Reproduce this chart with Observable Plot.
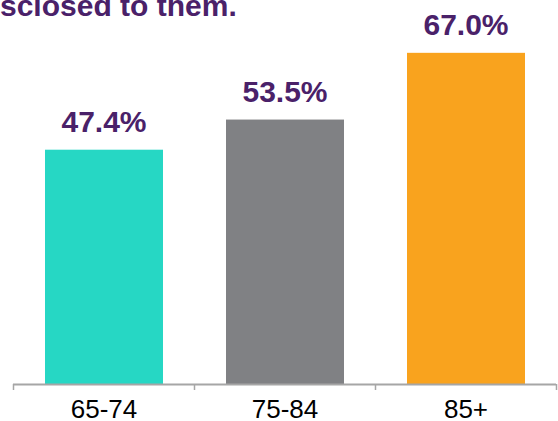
<!DOCTYPE html>
<html>
<head>
<meta charset="utf-8">
<script src="https://cdn.jsdelivr.net/npm/d3@7"></script>
<script src="https://cdn.jsdelivr.net/npm/@observablehq/plot@0.6"></script>
<style>
  html, body { margin: 0; padding: 0; background: #fff; }
  body { position: relative; width: 558px; height: 421px; overflow: hidden; font-family: "Liberation Sans", Arial, sans-serif; }
  #title { position: absolute; left: 0; top: -9px; font-size: 30px; line-height: 30px; font-weight: bold; color: #4a2169; white-space: nowrap; z-index: 2; }
  #chart svg { display: block; overflow: visible; }
</style>
</head>
<body>
<div id="title">sclosed to them.</div>
<div id="chart"></div>
<script>
const categories = ["65-74", "75-84", "85+"];
const values = [47.4, 53.5, 67.0];
const colors = ["#26d7c4", "#808184", "#f9a31e"];
const purple = "#4a2169";

const data = categories.map((c, i) => ({category: c, value: values[i], idx: i}));
const boundaries = d3.range(categories.length + 1);
const centers = categories.map((c, i) => i + 0.5);

const chart = Plot.plot({
  width: 558,
  height: 421,
  marginTop: 38,
  marginBottom: 37,
  marginLeft: 13,
  marginRight: 2,
  style: {fontFamily: "'Liberation Sans', Arial, sans-serif", color: "#000", background: "#fff"},
  x: {type: "linear", domain: [0, categories.length], axis: null},
  y: {domain: [0, 70], axis: null},
  color: {domain: categories, range: colors},
  marks: [
    Plot.rectY(data, {x1: "idx", x2: d => d.idx + 1, y1: 0, y2: "value", fill: "category", insetLeft: 32, insetRight: 31}),
    Plot.ruleY([0], {stroke: "#a6a6a6", strokeWidth: 2}),
    Plot.axisX(boundaries, {tickSize: 6, stroke: "#a6a6a6", strokeWidth: 1.5, tickFormat: () => "", label: null}),
    Plot.axisX(centers, {tickSize: 0, tickPadding: 15, fontSize: 26, fill: "#000", tickFormat: d => categories[Math.floor(d)], label: null}),
    Plot.text(data, {x: d => d.idx + 0.5, y: "value", text: d => d.value.toFixed(1) + "%", dy: -18, lineAnchor: "bottom", fontSize: 30, fontWeight: "bold", fill: purple})
  ]
});
document.getElementById("chart").appendChild(chart);
</script>
</body>
</html>
